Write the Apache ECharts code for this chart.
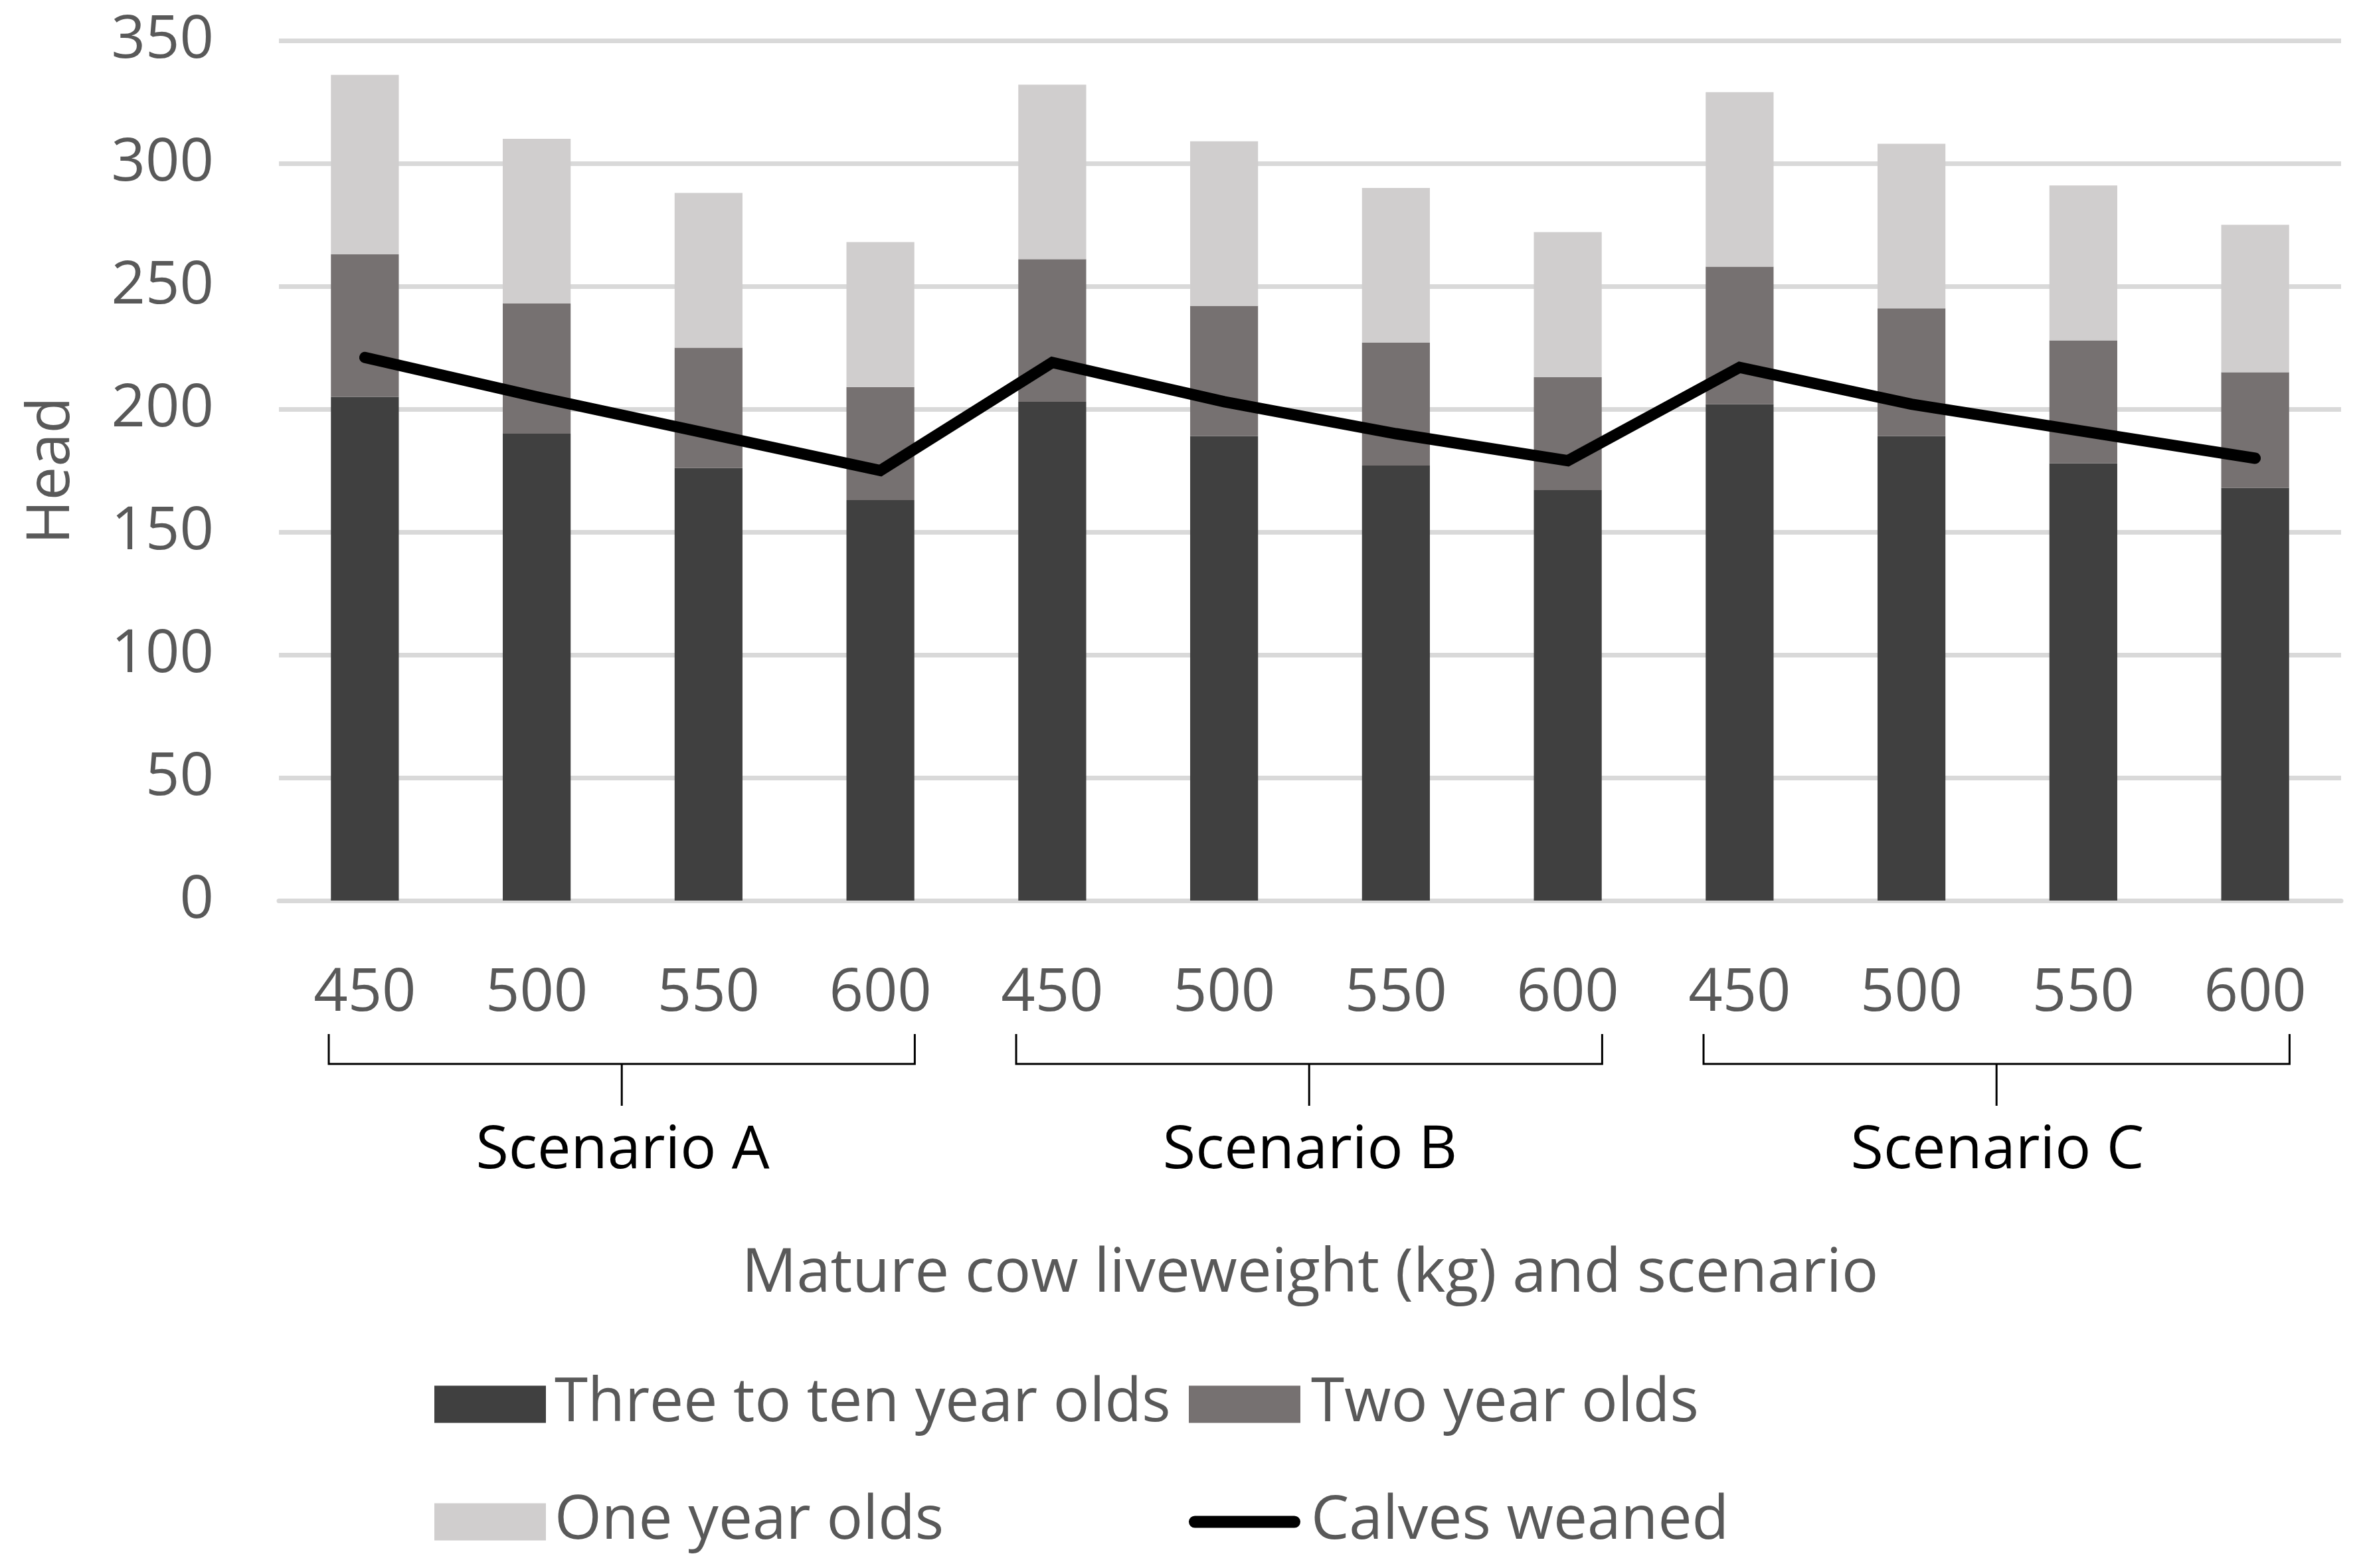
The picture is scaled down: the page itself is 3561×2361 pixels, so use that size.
<!DOCTYPE html>
<html>
<head>
<meta charset="utf-8">
<script src="https://cdn.jsdelivr.net/npm/echarts@6/dist/echarts.min.js"></script>
<style>
html,body{margin:0;padding:0;background:#ffffff;}
#chart{width:3561px;height:2361px;}
</style>
</head>
<body>
<div id="chart"></div>
<script>
// ---- Data ----
const categories = ['450', '500', '550', '600', '450', '500', '550', '600', '450', '500', '550', '600'];
const scenarios = ['Scenario A', 'Scenario B', 'Scenario C'];
const seriesNames = ['Three to ten year olds', 'Two year olds', 'One year olds', 'Calves weaned'];
const threeToTenYearOlds = [205, 190, 176, 163, 203, 189, 177, 167, 202, 189, 178, 168];
const twoYearOlds = [58, 53, 49, 46, 58, 53, 50, 46, 56, 52, 50, 47];
const oneYearOlds = [73, 67, 63, 59, 71, 67, 63, 59, 71, 67, 63, 60];
const calvesWeaned = [221, 205, 190, 175, 219, 203, 190, 179, 217, 202, 191, 180];
const yMin = 0, yMax = 350, yInterval = 50;
const axisTitleX = 'Mature cow liveweight (kg) and scenario';
const axisTitleY = 'Head';

// ---- Styles ----
const FONT = "'Open Sans', 'Liberation Sans', sans-serif";
const TEXT = '#595959';
const GRID = '#D9D9D9';
const colors = ['#404040', '#767171', '#D0CECE', '#000000'];
const lineIcon = 'path://M10,0 L175,0 A10,10 0 0 1 175,20 L10,20 A10,10 0 0 1 10,0 Z';

const chart = echarts.init(document.getElementById('chart'), null, {renderer: 'canvas'});

const legendCommon = {
  orient: 'vertical',
  top: 2064,
  itemWidth: 168,
  itemHeight: 56,
  itemGap: 86,
  selectedMode: false
};

const option = {
  animation: false,
  backgroundColor: '#ffffff',
  textStyle: {fontFamily: FONT},
  grid: {left: 420, right: 36, top: 61, bottom: 1005, containLabel: false},
  legend: [
    Object.assign({}, legendCommon, {
      left: 649,
      data: [
        {name: seriesNames[0], icon: 'rect'},
        {name: seriesNames[2], icon: 'rect'}
      ],
      textStyle: {color: TEXT, fontSize: 91, fontFamily: FONT, padding: [0, 0, 0, 8]}
    }),
    Object.assign({}, legendCommon, {
      left: 1785,
      data: [
        {name: seriesNames[1], icon: 'rect'},
        {name: seriesNames[3], icon: lineIcon, itemStyle: {color: '#000000', borderWidth: 0}}
      ],
      textStyle: {color: TEXT, fontSize: 91, fontFamily: FONT, padding: [0, 0, 0, 11]}
    })
  ],
  xAxis: [
    {
      type: 'category',
      data: categories,
      position: 'bottom',
      name: axisTitleX,
      nameLocation: 'middle',
      nameGap: 517,
      nameTextStyle: {color: TEXT, fontSize: 92, fontFamily: FONT},
      axisLine: {show: true, lineStyle: {color: GRID, width: 7}},
      axisTick: {show: false},
      axisLabel: {color: TEXT, fontSize: 90, fontFamily: FONT, margin: 95, interval: 0},
      splitLine: {show: false}
    },
    {
      type: 'category',
      data: scenarios,
      position: 'bottom',
      axisLine: {show: false},
      axisTick: {show: false},
      axisLabel: {color: '#000000', fontSize: 90, fontFamily: FONT, margin: 332, interval: 0},
      splitLine: {show: false}
    }
  ],
  yAxis: {
    type: 'value',
    min: yMin,
    max: yMax,
    interval: yInterval,
    name: axisTitleY,
    nameLocation: 'middle',
    nameGap: 297,
    nameTextStyle: {color: TEXT, fontSize: 90, fontFamily: FONT},
    axisLine: {show: false},
    axisTick: {show: false},
    axisLabel: {color: TEXT, fontSize: 90, fontFamily: FONT, margin: 98},
    splitLine: {show: true, lineStyle: {color: GRID, width: 7}}
  },
  series: [
    {
      name: seriesNames[0], type: 'bar', stack: 'total', xAxisIndex: 0,
      data: threeToTenYearOlds, barWidth: '39.5%',
      itemStyle: {color: colors[0]}
    },
    {
      name: seriesNames[1], type: 'bar', stack: 'total', xAxisIndex: 0,
      data: twoYearOlds, barWidth: '39.5%',
      itemStyle: {color: colors[1]}
    },
    {
      name: seriesNames[2], type: 'bar', stack: 'total', xAxisIndex: 0,
      data: oneYearOlds, barWidth: '39.5%',
      itemStyle: {color: colors[2]}
    },
    {
      name: seriesNames[3], type: 'line', xAxisIndex: 0,
      data: calvesWeaned, symbol: 'none', z: 5,
      itemStyle: {color: colors[3]},
      lineStyle: {color: colors[3], width: 17, cap: 'round', join: 'miter'}
    }
  ]
};

chart.setOption(option);

// ---- Group brackets under the category labels (positions from the axes) ----
const px0 = chart.convertToPixel({xAxisIndex: 0}, 0);
const px1 = chart.convertToPixel({xAxisIndex: 0}, 1);
const band = px1 - px0;
const yZero = chart.convertToPixel({yAxisIndex: 0}, 0);
const graphics = [];
scenarios.forEach(function (s, g) {
  const xl = chart.convertToPixel({xAxisIndex: 0}, g * 4) - band * 0.21;
  const xr = chart.convertToPixel({xAxisIndex: 0}, g * 4 + 3) + band * 0.2;
  const xm = (xl + xr) / 2;
  graphics.push({
    type: 'polyline',
    silent: true,
    shape: {points: [[xl, yZero + 201], [xl, yZero + 246], [xr, yZero + 246], [xr, yZero + 201]]},
    style: {stroke: '#000000', lineWidth: 3, fill: null}
  });
  graphics.push({
    type: 'line',
    silent: true,
    shape: {x1: xm, y1: yZero + 246, x2: xm, y2: yZero + 309},
    style: {stroke: '#000000', lineWidth: 3}
  });
});
chart.setOption({graphic: graphics});
</script>
</body>
</html>
